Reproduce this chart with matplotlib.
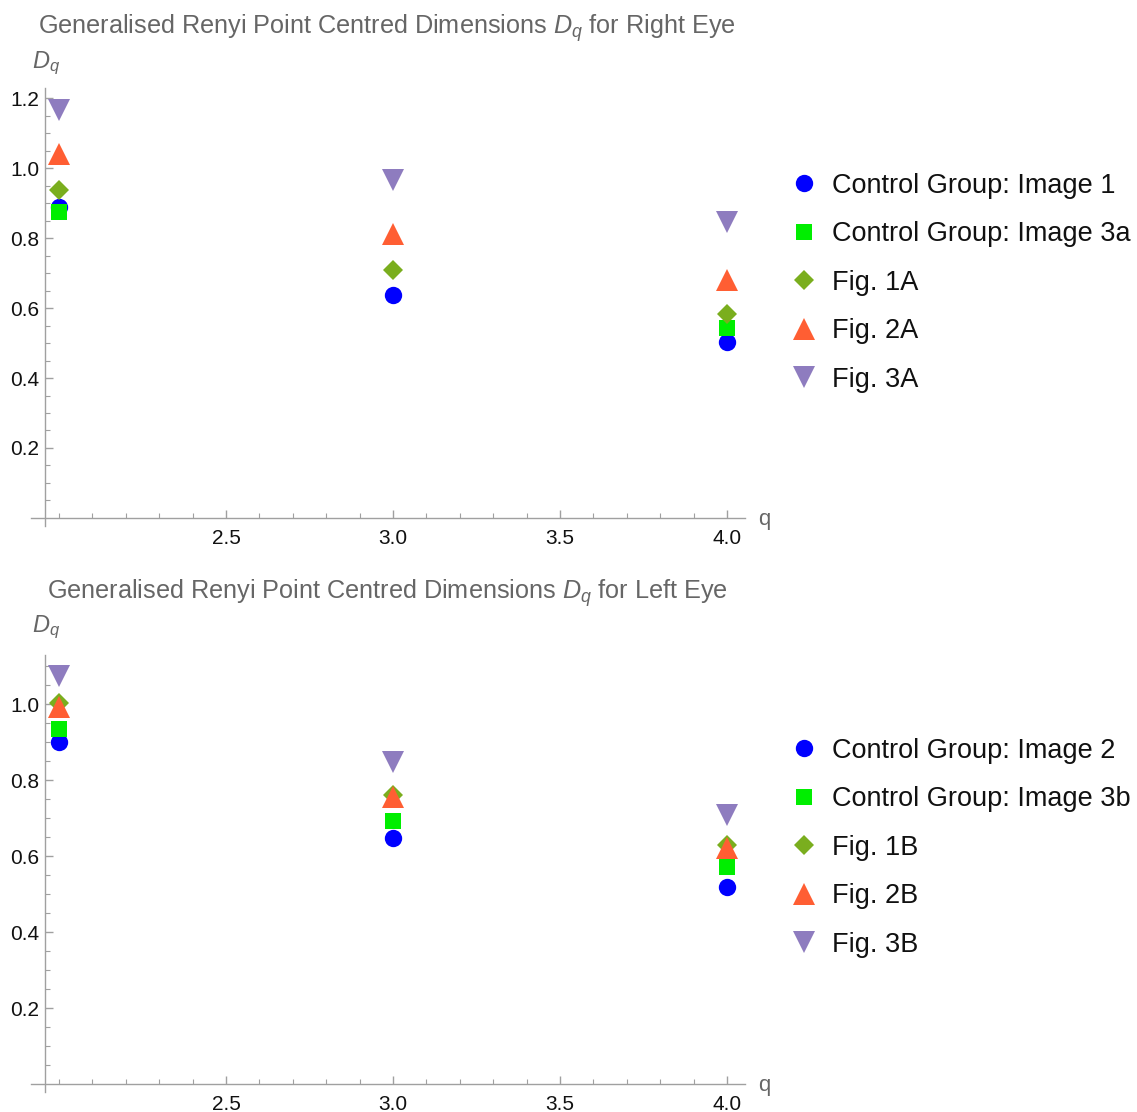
import matplotlib
matplotlib.use("Agg")
import matplotlib.pyplot as plt
import numpy as np
from matplotlib.ticker import FixedLocator, FormatStrFormatter

plt.rcParams['font.family'] = ['Liberation Sans', 'DejaVu Sans']
plt.rcParams['mathtext.fontset'] = 'custom'
plt.rcParams['mathtext.it'] = 'Liberation Sans:italic'
plt.rcParams['mathtext.rm'] = 'Liberation Sans'

q = [2, 3, 4]

right_labels = ["Control Group: Image 1", "Control Group: Image 3a", "Fig. 1A", "Fig. 2A", "Fig. 3A"]
right_ctrl1 = [0.889, 0.637, 0.503]
right_ctrl3a = [0.874, np.nan, 0.543]
right_fig1a = [0.937, 0.709, 0.583]
right_fig2a = [1.040, 0.811, 0.680]
right_fig3a = [1.166, 0.966, 0.846]

left_labels = ["Control Group: Image 2", "Control Group: Image 3b", "Fig. 1B", "Fig. 2B", "Fig. 3B"]
left_ctrl2 = [0.900, 0.647, 0.518]
left_ctrl3b = [0.934, 0.692, 0.571]
left_fig1b = [1.003, 0.760, 0.629]
left_fig2b = [0.992, 0.755, 0.621]
left_fig3b = [1.074, 0.847, 0.708]

titles = [r"Generalised Renyi Point Centred Dimensions $D_q$ for Right Eye",
          r"Generalised Renyi Point Centred Dimensions $D_q$ for Left Eye"]

colors = ["#0000FF", "#00EE00", "#7AAE1E", "#FF5E33", "#8E7CBF"]
markers = ["o", "s", "D", "^", "v"]
msizes = [12.5, 11.5, 10, 16.5, 16.5]

W, H = 1137, 1112
fig = plt.figure(figsize=(W / 100, H / 100), dpi=100)

def px_axes(l, t, r, b):
    return fig.add_axes([l / W, 1 - b / H, (r - l) / W, (b - t) / H])

axis_gray = "#A0A0A0"

def setup(ax, ylim, ymaj_max):
    ax.set_xlim(1.916, 4.054)
    ax.set_ylim(*ylim)
    for s in ["top", "right"]:
        ax.spines[s].set_visible(False)
    ax.spines["left"].set_position(("data", 1.958))
    ax.spines["bottom"].set_position(("data", 0))
    for s in ["left", "bottom"]:
        ax.spines[s].set_color(axis_gray)
        ax.spines[s].set_linewidth(1.0)
    ax.xaxis.set_major_locator(FixedLocator([2.5, 3.0, 3.5, 4.0]))
    ax.xaxis.set_minor_locator(FixedLocator(np.arange(2.0, 4.01, 0.1)))
    ax.yaxis.set_major_locator(FixedLocator(np.arange(0.2, ymaj_max + 0.01, 0.2)))
    ax.yaxis.set_minor_locator(FixedLocator(np.arange(0.05, ylim[1], 0.05)))
    ax.xaxis.set_major_formatter(FormatStrFormatter("%.1f"))
    ax.yaxis.set_major_formatter(FormatStrFormatter("%.1f"))
    ax.tick_params(which="both", direction="in", color=axis_gray, labelsize=15, labelcolor="#111111")
    ax.tick_params(which="major", length=6, width=1.0)
    ax.tick_params(which="minor", length=3.5, width=0.8)
    ax.tick_params(axis="x", pad=8)
    ax.tick_params(axis="y", pad=4)
    ax.set_facecolor("none")

def draw(ax, series, labels, title, title_y, dq_y, q_y, leg_top):
    for vals, lab, c, m, ms in zip(series, labels, colors, markers, msizes):
        ax.plot(q, vals, linestyle="none", marker=m, color=c, markersize=ms,
                markeredgewidth=0, label=lab, clip_on=False)
    fig.text(387 / W, 1 - title_y / H, title, ha="center", va="center", fontsize=18.2, color="#666666")
    fig.text(46 / W, 1 - dq_y / H, r"$D_q$", ha="center", va="center", fontsize=17, color="#666666")
    fig.text(764 / W, 1 - q_y / H, "q", ha="center", va="center", fontsize=16, color="#666666")
    leg = ax.legend(loc="upper left", bbox_to_anchor=(774 / W, 1 - leg_top / H),
                    bbox_transform=fig.transFigure, frameon=False, fontsize=19.5,
                    handletextpad=0.35, labelspacing=0.83, borderaxespad=0, handlelength=1.4)
    for t in leg.get_texts():
        t.set_color("#111111")

ax1 = px_axes(31, 88, 745, 526)
setup(ax1, (-0.023, 1.229), 1.2)
draw(ax1, [right_ctrl1, right_ctrl3a, right_fig1a, right_fig2a, right_fig3a], right_labels,
     titles[0], 28, 63, 520, 162)

ax2 = px_axes(31, 655, 745, 1092)
setup(ax2, (-0.021, 1.129), 1.0)
draw(ax2, [left_ctrl2, left_ctrl3b, left_fig1b, left_fig2b, left_fig3b], left_labels,
     titles[1], 593, 627, 1085, 727)

fig.savefig("out.png", dpi=100)
